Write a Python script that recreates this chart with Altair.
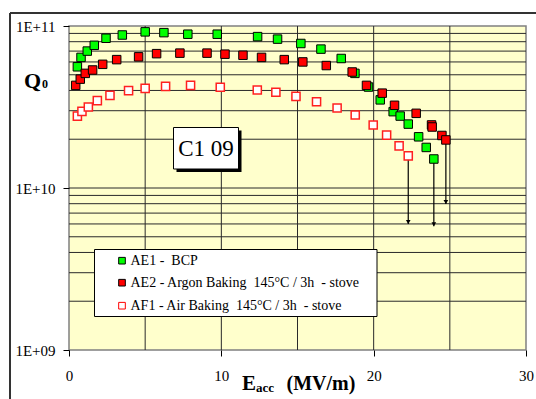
import altair as alt
import pandas as pd

# ---------------- data ----------------
E_AE1 = [0.55, 0.79, 1.2, 1.66, 2.43, 3.5, 5.0, 6.23, 7.8, 9.73, 12.38, 13.69, 15.22, 16.54,
         17.87, 18.77, 19.66, 20.43, 21.28, 21.74, 22.27, 22.95, 23.45, 23.95]
Q_AE1 = [5.6e10, 6.4e10, 7.0e10, 7.6e10, 8.4e10, 8.8e10, 9.2e10, 9.1e10, 8.9e10, 8.9e10, 8.6e10, 8.3e10,
         7.8e10, 7.2e10, 6.3e10, 5.1e10, 4.2e10, 3.5e10, 2.96e10, 2.78e10, 2.48e10, 2.07e10, 1.78e10, 1.51e10]

E_AE2 = [0.44, 0.74, 1.07, 1.55, 2.21, 3.13, 4.57, 5.75, 7.28, 9.06, 10.24, 11.42, 12.64, 14.13, 15.35,
         16.89, 18.59, 19.53, 20.56, 21.37, 22.79, 23.8, 23.84, 24.48, 24.74]
Q_AE2 = [4.3e10, 4.7e10, 5.1e10, 5.35e10, 5.8e10, 6.2e10, 6.45e10, 6.75e10, 6.8e10, 6.8e10, 6.7e10, 6.6e10,
         6.4e10, 6.2e10, 6.0e10, 5.7e10, 5.2e10, 4.3e10, 3.85e10, 3.24e10, 2.89e10, 2.45e10, 2.38e10, 2.11e10, 1.98e10]

E_AF1 = [0.55, 0.85, 1.27, 1.86, 2.69, 3.91, 5.0, 6.34, 7.98, 9.93, 12.36, 13.58, 14.9, 16.25, 17.6,
         18.79, 19.97, 20.85, 21.67, 22.27]
Q_AF1 = [2.78e10, 2.97e10, 3.16e10, 3.46e10, 3.73e10, 3.99e10, 4.12e10, 4.24e10, 4.3e10, 4.19e10, 4.03e10,
         3.9e10, 3.68e10, 3.41e10, 3.12e10, 2.82e10, 2.45e10, 2.12e10, 1.82e10, 1.58e10]

# quench / limit arrows
ARROW_E = [22.27, 23.95, 24.74]
ARROW_Q_START = [1.58e10, 1.51e10, 1.98e10]
ARROW_Q_END = [6.0e9, 5.8e9, 7.96e9]

LEGEND_LABELS = ["AE1 -\u00a0 BCP",
                 "AE2 - Argon Baking\u00a0 145°C / 3h\u00a0 - stove",
                 "AF1 - Air Baking\u00a0 145°C / 3h\u00a0 - stove"]

X_TICKS = [0, 10, 20, 30]
Y_TICKS = [1e9, 1e10, 1e11]
X_GRID = [5, 10, 15, 20, 25]
Y_GRID = [k * d for d in (1e9, 1e10) for k in range(2, 10)] + [1e10]

# ---------------- styling ----------------
SERIF = "'Liberation Serif', 'Times New Roman', Times, serif"
W, H = 457, 324
GRID_COLOR = "#2a2a2a"

xscale = alt.Scale(domain=[0, 30], nice=False, zero=False)
yscale = alt.Scale(type="log", domain=[1e9, 1e11], nice=False)
xaxis = alt.Axis(values=X_TICKS, grid=False, domain=False, tickSize=6, tickColor="black",
                 labelFont=SERIF, labelFontSize=15, labelColor="black", labelPadding=12,
                 labelFlush=False, labelOverlap=False)
yaxis = alt.Axis(values=Y_TICKS, grid=False, domain=False, tickSize=6, tickColor="black",
                 labelFont=SERIF, labelFontSize=15, labelColor="black", labelPadding=8,
                 labelFlush=False, labelOverlap=False,
                 labelExpr="datum.value >= 5e10 ? '1E+11' : (datum.value >= 5e9 ? '1E+10' : '1E+09')")


def X(field="E"):
    return alt.X(f"{field}:Q", scale=xscale, axis=xaxis, title=None)


def Y(field="Q"):
    return alt.Y(f"{field}:Q", scale=yscale, axis=yaxis, title=None)


one = pd.DataFrame({"d": [0]})

# grid lines
hgrid = alt.Chart(pd.DataFrame({"Q": Y_GRID})).mark_rule(color=GRID_COLOR, strokeWidth=1).encode(y=Y())
vgrid = alt.Chart(pd.DataFrame({"E": X_GRID})).mark_rule(color=GRID_COLOR, strokeWidth=1).encode(x=X())

# arrows
arr_df = pd.DataFrame({"E": ARROW_E, "Q": ARROW_Q_START, "Q2": ARROW_Q_END})
arrow_lines = alt.Chart(arr_df).mark_rule(color="black", strokeWidth=1.2).encode(
    x=X(), y=Y(), y2=alt.Y2("Q2:Q"))
arrow_heads = alt.Chart(arr_df).mark_point(shape="triangle-down", filled=True, color="black",
                                           size=22, opacity=1, yOffset=-2).encode(x=X(), y=Y("Q2"))

# series
ae1 = alt.Chart(pd.DataFrame({"E": E_AE1, "Q": Q_AE1})).mark_square(
    size=72, fill="#00ff00", stroke="black", strokeWidth=1, opacity=1).encode(x=X(), y=Y())
ae2 = alt.Chart(pd.DataFrame({"E": E_AE2, "Q": Q_AE2})).mark_square(
    size=72, fill="#ff0000", stroke="black", strokeWidth=1, opacity=1).encode(x=X(), y=Y())
af1 = alt.Chart(pd.DataFrame({"E": E_AF1, "Q": Q_AF1})).mark_square(
    size=66, fill="white", stroke="#ff2020", strokeWidth=1.5, opacity=1).encode(x=X(), y=Y())

# C1 09 label box with shadow
box_shadow = alt.Chart(one).mark_rect(color="black").encode(
    x=alt.value(107.5), x2=alt.value(172.5), y=alt.value(104.5), y2=alt.value(146))
box = alt.Chart(one).mark_rect(fill="white", stroke="black", strokeWidth=1).encode(
    x=alt.value(104.5), x2=alt.value(169.5), y=alt.value(101.5), y2=alt.value(143))
box_text = alt.Chart(one).mark_text(font=SERIF, fontSize=23, color="black", align="center",
                                    baseline="middle").encode(
    x=alt.value(137), y=alt.value(123), text=alt.value("C1 09"))

# legend box
leg_box = alt.Chart(one).mark_rect(fill="white", stroke="black", strokeWidth=1).encode(
    x=alt.value(25.5), x2=alt.value(308), y=alt.value(223.5), y2=alt.value(290.5))
leg_y = [234.7, 256.7, 279.7]
leg_fill = ["#00ff00", "#ff0000", "white"]
leg_stroke = ["black", "black", "#ff0000"]
leg_layers = []
for lbl, yy, fc, sc in zip(LEGEND_LABELS, leg_y, leg_fill, leg_stroke):
    leg_layers.append(alt.Chart(one).mark_square(size=44, fill=fc, stroke=sc, strokeWidth=1,
                                                 opacity=1).encode(x=alt.value(53), y=alt.value(yy)))
    leg_layers.append(alt.Chart(one).mark_text(font=SERIF, fontSize=14, color="black", align="left",
                                               baseline="middle").encode(
        x=alt.value(61.5), y=alt.value(yy + 0.5), text=alt.value(lbl)))

# axis titles with subscripts
titles = [
    ("Q", -45, 61.7, 22), ("0", -27, 61.5, 12),
    ("E", 173, 364, 21), ("acc", 187, 365.5, 13), ("(MV/m)", 217.5, 364, 20),
]
title_layers = [
    alt.Chart(one).mark_text(font=SERIF, fontSize=fs, fontWeight="bold", color="black", align="left",
                             baseline="alphabetic").encode(
        x=alt.value(px), y=alt.value(py), text=alt.value(t))
    for t, px, py, fs in titles
]

# outer frame of the figure
frame_top = alt.Chart(one).mark_rule(color="#333333", strokeWidth=2).encode(
    x=alt.value(-59), x2=alt.value(480), y=alt.value(-13))
frame_left = alt.Chart(one).mark_rule(color="#333333", strokeWidth=2).encode(
    x=alt.value(-59), y=alt.value(-13), y2=alt.value(390))

chart = alt.layer(
    hgrid, vgrid, arrow_lines, arrow_heads, ae1, ae2, af1,
    box_shadow, box, box_text, leg_box, *leg_layers, *title_layers, frame_top, frame_left
).properties(
    width=W, height=H,
    autosize=alt.AutoSizeParams(type="none"),
    padding={"left": 69, "top": 26, "right": 10, "bottom": 49},
    background="white",
).configure_view(
    fill="#ffffcc", stroke="#808080", strokeWidth=1.5
)

chart.save("out.html", embed_options={"renderer": "svg", "actions": False})
